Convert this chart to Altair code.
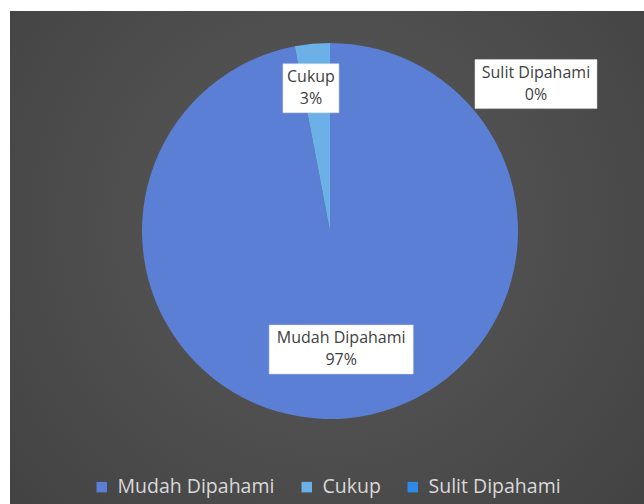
import math
import altair as alt
import pandas as pd

categories = ["Mudah Dipahami", "Cukup", "Sulit Dipahami"]
values = [97, 3, 0]
pct_labels = ["97%", "3%", "0%"]
colors = ["#5b7fd4", "#6cb0e8", "#2e8ae6"]

W, H = 644, 504
CX, CY, R = 330, 231, 188
FONT = "Open Sans"
LINE_H = 22

# label placement (style): radius from centre, optional angle override (deg), box width
label_style = {
    "Mudah Dipahami": dict(r=119, angle=None, w=144),
    "Cukup": dict(r=144, angle=352.4, w=56),
    "Sulit Dipahami": dict(r=253, angle=54.5, w=122),
}
BOX_H = 49

total = sum(values)
rows = []
cum = 0
for i, (c, v, p) in enumerate(zip(categories, values, pct_labels)):
    mid = (cum + v / 2) / total * 360
    cum += v
    st = label_style[c]
    a = st["angle"] if st["angle"] is not None else mid
    rad = math.radians(a)
    lx = CX + st["r"] * math.sin(rad)
    ly = CY - st["r"] * math.cos(rad)
    rows.append(dict(cat=c, value=v, order=i, text=f"{c}\n{p}", lx=lx, ly=ly,
                     x0=lx - st["w"] / 2, x1=lx + st["w"] / 2,
                     y0=ly - BOX_H / 2, y1=ly + BOX_H / 2))
df = pd.DataFrame(rows)

xs = alt.Scale(domain=[0, W], range=[0, W])
ys = alt.Scale(domain=[0, H], range=[0, H])

bg = alt.Chart(pd.DataFrame({"a": [0]})).mark_rect(
    fill=alt.RadialGradient(
        gradient="radial",
        stops=[alt.GradientStop(color="#5a5a5a", offset=0),
               alt.GradientStop(color="#3e3e3e", offset=1)],
        x1=0.5, y1=0.45, x2=0.5, y2=0.45, r1=0, r2=0.8,
    )
).encode(x=alt.value(10), x2=alt.value(W), y=alt.value(11), y2=alt.value(H))

arc = alt.Chart(df).mark_arc(outerRadius=R).encode(
    theta=alt.Theta("value:Q", stack=True),
    order=alt.Order("order:Q"),
    color=alt.Color(
        "cat:N",
        scale=alt.Scale(domain=categories, range=colors),
        sort=categories,
        legend=alt.Legend(
            title=None, orient="none", legendX=92, legendY=477,
            direction="horizontal", symbolType="square", symbolSize=110,
            symbolStrokeWidth=0, labelFontSize=19.5, labelColor="#d9d9d9",
            labelFont=FONT, labelLimit=400, columnPadding=22, labelOffset=6,
        ),
    ),
    x=alt.value(CX),
    y=alt.value(CY),
)

boxes = alt.Chart(df).mark_rect(fill="white", stroke="#dddddd", strokeWidth=0.5).encode(
    x=alt.X("x0:Q", scale=xs, axis=None), x2="x1",
    y=alt.Y("y0:Q", scale=ys, axis=None), y2="y1",
)

texts = alt.Chart(df).mark_text(
    lineBreak="\n", fontSize=16, font=FONT, color="#404040",
    lineHeight=LINE_H, baseline="middle", align="center", dy=-LINE_H / 2,
).encode(
    x=alt.X("lx:Q", scale=xs, axis=None),
    y=alt.Y("ly:Q", scale=ys, axis=None),
    text="text:N",
)

chart = alt.layer(bg, arc, boxes, texts).properties(
    width=W, height=H, padding=0, autosize="none", background="white"
).configure_view(stroke=None)

chart.save("out.html", embed_options={"renderer": "svg", "actions": False})
